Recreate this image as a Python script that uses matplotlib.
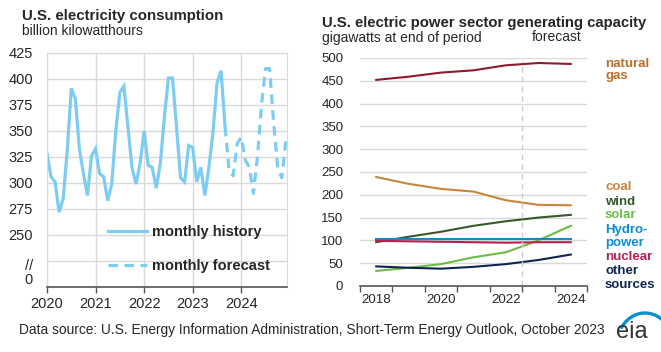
import matplotlib
matplotlib.use("Agg")
import matplotlib.pyplot as plt
import matplotlib.transforms as mtransforms
import numpy as np
from matplotlib.lines import Line2D
from matplotlib.patches import Arc

plt.rcParams["font.family"] = ["Liberation Sans", "DejaVu Sans"]

# ---- left panel data: monthly consumption, billion kWh ----
hist_vals = [328, 306, 301, 272, 285, 331, 391, 381, 333, 309, 288, 326,
             333, 309, 306, 283, 299, 350, 387, 393, 354, 315, 299, 319,
             350, 317, 315, 295, 319, 363, 401, 401, 354, 305, 301, 336,
             334, 301, 315, 288, 315, 348, 396, 408, 354]
fcst_vals = [354, 312, 307, 338, 344, 322, 315, 290, 325, 375, 410, 410,
             358, 315, 305, 340]
left_yticks = [200, 225, 250, 275, 300, 325, 350, 375, 400, 425]
left_ylabels = ["0", "//", "250", "275", "300", "325", "350", "375", "400", "425"]
left_years = [2020, 2021, 2022, 2023, 2024]

# ---- right panel data: capacity, GW at end of year ----
cap_years = [2018, 2019, 2020, 2021, 2022, 2023, 2024]
natural_gas = [452, 459, 468, 473, 484, 489, 487]
coal = [239, 224, 213, 207, 188, 178, 177]
wind = [96, 108, 119, 132, 142, 150, 156]
solar = [33, 40, 48, 63, 74, 100, 132]
hydro = [102, 102, 102, 102, 102, 102, 102]
nuclear = [99, 98, 97, 96, 95, 96, 96]
other = [43, 40, 38, 42, 48, 57, 69]

blue_line = "#7dcdf3"
grid_c = "#d9d9d9"
text_c = "#262626"

fig = plt.figure(figsize=(6.61, 3.52), dpi=100)

# ================= left chart =================
ax1 = fig.add_axes([47/661, 1-287/352, 240/661, 234/352])
n_h = len(hist_vals)
x_h = 2020 + np.arange(n_h) / 12
x_f = 2020 + (n_h - 1 + np.arange(len(fcst_vals))) / 12
ax1.plot(x_h, hist_vals, color=blue_line, lw=2.3, solid_joinstyle="miter")
ax1.plot(x_f, fcst_vals, color=blue_line, lw=2.3, ls=(0, (3, 2)))
ax1.set_xlim(2020, 2020 + 59.3/12)
ax1.set_ylim(200, 425)
ax1.set_yticks(left_yticks)
ax1.set_yticklabels(left_ylabels)
ax1.set_xticks(left_years)
ax1.set_xticklabels([str(y) for y in left_years])
ax1.grid(True, color=grid_c, lw=1)
ax1.set_axisbelow(True)
for s in ["top", "right", "left"]:
    ax1.spines[s].set_color(grid_c)
ax1.spines["bottom"].set_color("#555555")
ax1.spines["bottom"].set_linewidth(1.2)
ax1.tick_params(axis="y", length=0, pad=10, labelsize=10.5, labelcolor=text_c)
ax1.tick_params(axis="x", length=4, width=1, color="#555555", pad=3,
                labelsize=10.5, labelcolor=text_c)

# nudge the "0" and "//" labels like the original
ylabs = ax1.get_yticklabels()
ylabs[0].set_transform(ylabs[0].get_transform() +
                       mtransforms.ScaledTranslation(0, 8/100, fig.dpi_scale_trans))
ylabs[1].set_transform(ylabs[1].get_transform() +
                       mtransforms.ScaledTranslation(0, -4/100, fig.dpi_scale_trans))

h1 = Line2D([], [], color=blue_line, lw=2.3)
h2 = Line2D([], [], color=blue_line, lw=2.3, ls=(0, (3, 2)))
leg = ax1.legend([h1, h2], ["monthly history", "monthly forecast"],
                 loc="center left", bbox_to_anchor=(108/661, 1-249/352),
                 bbox_transform=fig.transFigure, frameon=False,
                 handlelength=2.7, handletextpad=0.35, labelspacing=1.35,
                 borderpad=0, borderaxespad=0,
                 prop={"weight": "bold", "size": 10.5})
for t in leg.get_texts():
    t.set_color(text_c)

fig.text(22/661, 1-16/352, "U.S. electricity consumption", fontsize=10.8,
         fontweight="bold", color=text_c, va="center", ha="left")
fig.text(22/661, 1-31/352, "billion kilowatthours", fontsize=10,
         color=text_c, va="center", ha="left")

# ================= right chart =================
ax2 = fig.add_axes([360/661, 1-286/352, 227/661, 228/352])
series = [
    (natural_gas, "#8c1c2c"),
    (coal, "#c8853f"),
    (wind, "#345a2a"),
    (solar, "#6dbb47"),
    (hydro, "#0a8ed0"),
    (nuclear, "#b3234d"),
    (other, "#0e2550"),
]
for vals, c in series:
    ax2.plot(cap_years, vals, color=c, lw=1.5)
ax2.set_xlim(2017.5, 2024.5)
ax2.set_ylim(0, 500)
ax2.set_yticks(np.arange(0, 501, 50))
ax2.set_xticks(np.arange(2017.5, 2025, 1))
ax2.set_xticklabels([])
ax2.set_xticks([2018, 2020, 2022, 2024], minor=True)
ax2.set_xticklabels(["2018", "2020", "2022", "2024"], minor=True)
ax2.tick_params(axis="x", which="major", length=4, width=1, color="#555555")
ax2.tick_params(axis="x", which="minor", length=0, pad=6, labelsize=9.5,
                labelcolor=text_c)
ax2.tick_params(axis="y", length=0, pad=12, labelsize=9.5, labelcolor=text_c)
ax2.yaxis.grid(True, color=grid_c, lw=1)
ax2.set_axisbelow(True)
for s in ["top", "right", "left"]:
    ax2.spines[s].set_visible(False)
ax2.spines["bottom"].set_color("#555555")
ax2.spines["bottom"].set_linewidth(1.2)
ax2.axvline(2022.5, color="#cccccc", lw=1, ls=(0, (4, 3)), ymax=0.985)

fig.text(322/661, 1-23/352, "U.S. electric power sector generating capacity",
         fontsize=10.7, fontweight="bold", color=text_c, va="center", ha="left")
fig.text(322/661, 1-38/352, "gigawatts at end of period", fontsize=10,
         color=text_c, va="center", ha="left")
fig.text(532/661, 1-37/352, "forecast", fontsize=10, color=text_c,
         va="center", ha="left")

labels = [
    ("natural\ngas", 70, "#b5702d"),
    ("coal", 187, "#c8853f"),
    ("wind", 202, "#345a2a"),
    ("solar", 215.5, "#6dbb47"),
    ("Hydro-", 229.5, "#0a8ed0"),
    ("power", 243, "#0a8ed0"),
    ("nuclear", 257, "#b3234d"),
    ("other", 271, "#0e2550"),
    ("sources", 284.5, "#0e2550"),
]
for txt, ypx, c in labels:
    fig.text(605/661, 1-ypx/352, txt, fontsize=9.5, fontweight="bold",
             color=c, va="center", ha="left", linespacing=1.05)

# footer
fig.text(19/661, 1-330/352,
         "Data source: U.S. Energy Information Administration, Short-Term Energy Outlook, October 2023",
         fontsize=9.9, color=text_c, va="center", ha="left")
fig.text(632/661, 1-332/352, "eia", fontsize=17, color="#333333",
         va="center", ha="center")
fig.add_artist(Arc((645/661, 1-345/352), 56/661, 64/352, theta1=62, theta2=128,
                   transform=fig.transFigure, color="#0a8ed0", lw=2.4))

fig.savefig("out.png", dpi=100)
